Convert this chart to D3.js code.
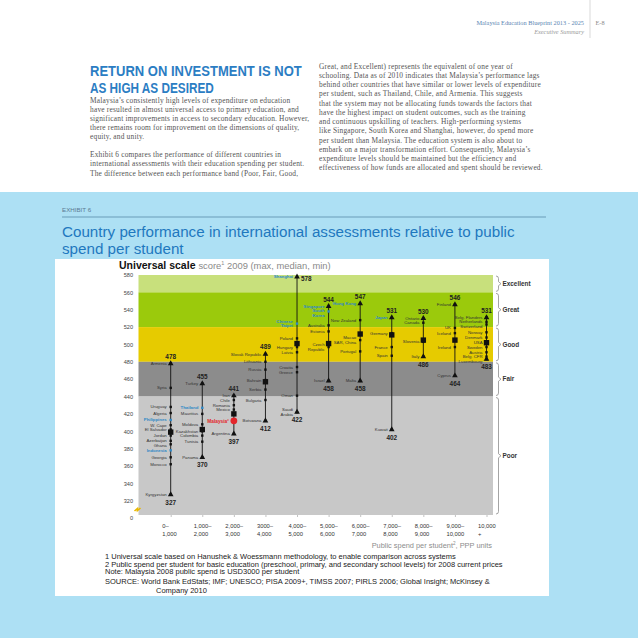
<!DOCTYPE html>
<html><head><meta charset="utf-8">
<script src="https://cdn.jsdelivr.net/npm/d3@7"></script>
<style>body{margin:0;background:#fff}svg{display:block}</style>
</head><body>
<svg id="c" width="638" height="638"></svg>
<script>
// ---------- data ----------
const spendBinsTop = ["0–","1,000–","2,000–","3000–","4,000–","5,000–","6,000–","7,000–","8,000–","9,000–","10,000"];
const spendBinsBottom = ["1,000","2,000","3,000","4,000","5,000","6,000","7,000","8,000","9,000","10,000","+"];
const maxScores = [478,455,441,489,578,544,547,531,530,546,531];
const medianScores = [399,402,420,457,501,501,512,511,505,505,502];
const minScores = [327,370,397,412,422,458,458,402,486,464,483];
const bandNames = ["Excellent","Great","Good","Fair","Poor"];
const bandUpper = [580,560,520,480,440];
const bandLower = [560,520,480,440,320];
const yTicks = [580,560,540,520,500,480,460,440,420,400,380,360,340,320];
const countries = [
 [0,"Armenia",478],[0,"Syria",450],[0,"Uruguay",428],[0,"Algeria",421],[0,"Philippines",413],[0,"W. Cape",407],[0,"El Salvador",402],[0,"Jordan",395],[0,"Azerbaijan",389],[0,"Ghana",385],[0,"Indonesia",378],[0,"Georgia",370],[0,"Morocco",362],[0,"Kyrgyzstan",327],
 [1,"Turkey",455],[1,"Thailand",427],[1,"Mauritius",420],[1,"Moldova",408],[1,"Kazakhstan",400],[1,"Colombia",395],[1,"Tunisia",388],[1,"Panama",370],
 [2,"Iran",441],[2,"Chile",436],[2,"Romania",430],[2,"Mexico",425],[2,"Malaysia²",412],[2,"Argentina",397],
 [3,"Slovak Republic",489],[3,"Lithuania",480],[3,"Russia",471],[3,"Bahrain",459],[3,"Serbia",448],[3,"Bulgaria",436],[3,"Botswana",412],
 [4,"Shanghai",578],[4,"Chinese\nTaipei",524],[4,"Poland",507],[4,"Hungary",497],[4,"Latvia",491],[4,"Croatia",474],[4,"Greece",468],[4,"Oman",441],[4,"Saudi\nArabia",422],
 [5,"Singapore",544],[5,"South\nKorea",538],[5,"Australia",522],[5,"Estonia",515],[5,"Czech\nRepublic",497],[5,"Israel",458],
 [6,"Hong Kong",547],[6,"New Zealand",528],[6,"Macao\nSAR, China",505],[6,"Portugal",492],[6,"Malta",458],
 [7,"Japan",531],[7,"Germany",513],[7,"France",497],[7,"Spain",487],[7,"Kuwait",402],
 [8,"Ontario",530],[8,"Canada",525],[8,"Slovenia",503],[8,"Italy",486],
 [9,"Finland",546],[9,"UK",519],[9,"Iceland",513],[9,"Ireland",497],[9,"Cyprus",464],
 [10,"Belg. Flanders",531],[10,"Netherlands",526],[10,"Switzerland",523],[10,"Norway",514],[10,"Denmark",508],[10,"USA",502],[10,"Sweden",497],[10,"Austria",491],[10,"Belg. CFR",486],[10,"Luxembourg",483]
];
const blueCountries = ["Shanghai","Chinese\nTaipei","Singapore","South\nKorea","Hong Kong","Japan","Thailand","Philippines","Indonesia"];
const redCountries = ["Malaysia²"];

const headingLines = ["RETURN ON INVESTMENT IS NOT","AS HIGH AS DESIRED"];
const leftText = [
 "Malaysia’s consistently high levels of expenditure on education",
 "have resulted in almost universal access to primary education, and",
 "significant improvements in access to secondary education. However,",
 "there remains room for improvement on the dimensions of quality,",
 "equity, and unity.",
 "",
 "Exhibit 6 compares the performance of different countries in",
 "international assessments with their education spending per student.",
 "The difference between each performance band (Poor, Fair, Good,"];
const rightText = [
 "Great, and Excellent) represents the equivalent of one year of",
 "schooling. Data as of 2010 indicates that Malaysia’s performance lags",
 "behind other countries that have similar or lower levels of expenditure",
 "per student, such as Thailand, Chile, and Armenia. This suggests",
 "that the system may not be allocating funds towards the factors that",
 "have the highest impact on student outcomes, such as the training",
 "and continuous upskilling of teachers. High-performing systems",
 "like Singapore, South Korea and Shanghai, however, do spend more",
 "per student than Malaysia. The education system is also about to",
 "embark on a major transformation effort. Consequently, Malaysia’s",
 "expenditure levels should be maintained but the efficiency and",
 "effectiveness of how funds are allocated and spent should be reviewed."];
const footnotes = [
 "1 Universal scale based on Hanushek & Woessmann methodology, to enable comparison across systems",
 "2 Public spend per student for basic education (preschool, primary, and secondary school levels) for 2008 current prices",
 "Note: Malaysia 2008 public spend is USD3000 per student",
 "SOURCE: World Bank EdStats; IMF; UNESCO; PISA 2009+, TIMSS 2007; PIRLS 2006; Global Insight; McKinsey &",
 "Company 2010"];

// ---------- drawing ----------
const svg = d3.select("#c");
const SANS = "'Liberation Sans', Arial, sans-serif";
const SERIF = "'Liberation Serif', 'Times New Roman', serif";

// page header
svg.append("line").attr("x1",590).attr("x2",590).attr("y1",0).attr("y2",38).attr("stroke","#cfcfcf").attr("stroke-width",0.8);
svg.append("text").attr("x",584).attr("y",24.5).attr("text-anchor","end").attr("font-family",SERIF).attr("font-size",6.3).attr("fill","#5b86b3").text("Malaysia Education Blueprint 2013 - 2025");
svg.append("text").attr("x",595.5).attr("y",24.5).attr("font-family",SERIF).attr("font-size",6.3).attr("fill","#8a8a8a").text("E-8");
svg.append("text").attr("x",584).attr("y",34).attr("text-anchor","end").attr("font-family",SERIF).attr("font-style","italic").attr("font-size",6.3).attr("fill","#999").text("Executive Summary");

// heading (horizontally condensed via transform)
const headScale = [0.84, 0.76];
headingLines.forEach((t,i)=>{
  svg.append("g").attr("transform",`translate(90,${75.5+i*17}) scale(${headScale[i]},1)`)
   .append("text").attr("x",0).attr("y",0).attr("font-family",SANS).attr("font-size",15.5)
   .attr("font-weight","bold").attr("fill","#2b7dc3").text(t);
});
leftText.forEach((t,i)=>{
  if(!t) return;
  svg.append("text").attr("x",90).attr("y",102.5+i*9.2 + (i>5?-0.5:0)).attr("font-family",SERIF).attr("font-size",7.4)
    .attr("letter-spacing",0.2).attr("fill","#555").text(t);
});
rightText.forEach((t,i)=>{
  svg.append("text").attr("x",319).attr("y",68.5+i*9.25).attr("font-family",SERIF).attr("font-size",7.4)
    .attr("letter-spacing",0.2).attr("fill","#555").text(t);
});

// blue background & white panel
svg.append("rect").attr("x",0).attr("y",192).attr("width",638).attr("height",446).attr("fill","#ade0f4");
svg.append("text").attr("x",62).attr("y",212).attr("font-family",SANS).attr("font-size",6.2).attr("fill","#5c7b93").text("EXHIBIT 6");
svg.append("line").attr("x1",62).attr("x2",546).attr("y1",217).attr("y2",217).attr("stroke","#3e6f92").attr("stroke-width",0.6);
svg.append("text").attr("x",62).attr("y",237).attr("font-family",SANS).attr("font-size",15.2).attr("fill","#1f78bf").text("Country performance in international assessments relative to public");
svg.append("text").attr("x",62).attr("y",253.5).attr("font-family",SANS).attr("font-size",15.2).attr("fill","#1f78bf").text("spend per student");
svg.append("rect").attr("x",55).attr("y",259).attr("width",494).attr("height",337).attr("fill","#fff");

// chart title
const tt = svg.append("text").attr("x",119).attr("y",268.5).attr("font-family",SANS);
tt.append("tspan").attr("font-size",10.5).attr("font-weight","bold").attr("fill","#111").text("Universal scale ");
tt.append("tspan").attr("font-size",9.4).attr("fill","#8a8a8a").text("score");
tt.append("tspan").attr("font-size",5.5).attr("dy",-3.5).attr("fill","#8a8a8a").text("1");
tt.append("tspan").attr("font-size",9.4).attr("dy",3.5).attr("fill","#8a8a8a").text(" 2009 (max, median, min)");

// scales
const y = d3.scaleLinear().domain([320,580]).range([500.7,275]);
const x = d3.scalePoint().domain(d3.range(spendBinsTop.length)).range([170.7,486.5]);
const plotL = 138.5, plotR = 493, plotB = 515;

const bandColors = ["#c8e07c","#9bca0c","#e6cb00","#8c8c8c","#c8c8c8"];
bandNames.forEach((b,i)=>{
  const top = y(bandUpper[i]);
  const bot = i===bandNames.length-1 ? plotB : y(bandLower[i]);
  svg.append("rect").attr("x",plotL).attr("y",top).attr("width",plotR-plotL).attr("height",bot-top).attr("fill",bandColors[i]);
  const x0 = plotR+3, t=top+1, bb=bot-1, m=(t+bb)/2;
  svg.append("path").attr("d",`M${x0},${t} Q${x0+2.5},${t} ${x0+2.5},${t+2.5} V${m-2} L${x0+5},${m} L${x0+2.5},${m+2} V${bb-2.5} Q${x0+2.5},${bb} ${x0},${bb}`)
    .attr("fill","none").attr("stroke","#8e8e8e").attr("stroke-width",0.8);
  svg.append("text").attr("x",x0+6.5).attr("y",m).attr("dy","0.35em").attr("font-family",SANS).attr("font-size",6.4)
    .attr("fill","#333").attr("font-weight","bold").text(b);
});

// y axis labels
const yAxis = d3.axisLeft(y).tickValues(yTicks).tickSize(0).tickPadding(0);
const ya = svg.append("g").attr("transform",`translate(${plotL-5.5},0)`).call(yAxis);
ya.select(".domain").remove();
ya.selectAll("text").attr("font-family",SANS).attr("font-size",5.6).attr("fill","#444");
svg.append("text").attr("x",plotL-5.5).attr("y",518).attr("dy","0.32em").attr("text-anchor","end").attr("font-family",SANS).attr("font-size",5.6).attr("fill","#444").text("0");
svg.append("path").attr("d",`M${plotL-4},${511} l3,-2.5 l0,2 l3,-2.5`).attr("fill","none").attr("stroke","#e9b800").attr("stroke-width",1.6);

// x axis
const xAxis = d3.axisBottom(x).tickSize(2).tickFormat("");
const xa = svg.append("g").attr("transform",`translate(0,${plotB})`).call(xAxis);
xa.select(".domain").remove();
xa.selectAll("line").attr("stroke","#999").attr("stroke-width",0.6);
spendBinsTop.forEach((t,i)=>{
  const tx = svg.append("text").attr("x",x(i)-8.5).attr("y",528).attr("font-family",SANS).attr("font-size",5.8).attr("fill","#333");
  tx.append("tspan").text(t);
  tx.append("tspan").attr("x",x(i)-8.5).attr("dy",7.6).text(spendBinsBottom[i]);
});
const xt = svg.append("text").attr("x",492).attr("y",547.5).attr("text-anchor","end").attr("font-family",SANS).attr("font-size",7.4).attr("fill","#8c8c8c");
xt.append("tspan").text("Public spend per student");
xt.append("tspan").attr("font-size",4.6).attr("dy",-3).text("2");
xt.append("tspan").attr("dy",3).text(", PPP units");

// footnotes
const footY = [559,566.5,574,584,592.5];
footnotes.forEach((t,i)=>{
  svg.append("text").attr("x", i===4?156:105).attr("y",footY[i]).attr("font-family",SANS).attr("font-size",7.5).attr("fill","#222").text(t);
});

// range lines
const g = svg.append("g");
d3.range(spendBinsTop.length).forEach(i=>{
  g.append("line").attr("x1",x(i)).attr("x2",x(i)).attr("y1",y(maxScores[i])).attr("y2",y(minScores[i]))
   .attr("stroke","#111").attr("stroke-width",0.9);
});

// country dots
countries.forEach(([b,n,s])=>{
  const isBlue = blueCountries.includes(n), isRed = redCountries.includes(n);
  if(isRed){
    g.append("circle").attr("cx",x(b)).attr("cy",y(s)).attr("r",3.4).attr("fill","#e3262b");
  } else {
    g.append("rect").attr("x",x(b)-1.2).attr("y",y(s)-1.2).attr("width",2.4).attr("height",2.4).attr("fill",isBlue?"#2f88c6":"#111");
  }
});
// medians
d3.range(spendBinsTop.length).forEach(i=>{
  g.append("rect").attr("x",x(i)-2.7).attr("y",y(medianScores[i])-2.7).attr("width",5.4).attr("height",5.4).attr("fill","#111");
});
// max/min triangles + labels
const tri = d3.symbol().type(d3.symbolTriangle).size(14);
const titleBottom = 271;
d3.range(spendBinsTop.length).forEach(i=>{
  [maxScores[i],minScores[i]].forEach((v,k)=>{
    g.append("path").attr("d",tri()).attr("transform",`translate(${x(i)},${y(v)})`).attr("fill","#111");
    let lx = x(i), ly = k===0? y(v)-4.5 : y(v)+10, anchor="middle";
    if(k===0 && ly-5 < titleBottom){ lx = x(i)+4; ly = y(v)+4.5; anchor="start"; }
    g.append("text").attr("x",lx).attr("y",ly).attr("text-anchor",anchor)
      .attr("font-family",SANS).attr("font-size",6.4).attr("font-weight","bold").attr("fill","#222").text(v);
  });
});

// country labels with simple de-overlap per bin
const lineH = 4.4;
d3.range(spendBinsTop.length).forEach(b=>{
  const items = countries.filter(c=>c[0]===b).map(c=>({name:c[1], y:y(c[2]), lines:c[1].split("\n")}))
    .sort((a,c)=>a.y-c.y);
  for(let k=1;k<items.length;k++){
    const p=items[k-1], c=items[k];
    const need = (p.lines.length+c.lines.length)/2*lineH;
    if(c.y-p.y<need) c.y = p.y+need;
  }
  items.forEach(it=>{
    const isBlue = blueCountries.includes(it.name), isRed = redCountries.includes(it.name);
    const t = g.append("text").attr("x",x(b)-(isRed?5:4)).attr("text-anchor","end").attr("font-family",SANS)
      .attr("font-size",isRed?4.8:4.3).attr("font-weight",isRed||isBlue?"bold":"normal")
      .attr("fill",isRed?"#e3262b":(isBlue?"#2f88c6":"#333"));
    const n = it.lines.length;
    it.lines.forEach((ln,j)=>{
      t.append("tspan").attr("x",x(b)-(isRed?5:4)).attr("y",it.y+(j-(n-1)/2)*lineH).attr("dy","0.35em").text(ln);
    });
  });
});
</script>
</body></html>
